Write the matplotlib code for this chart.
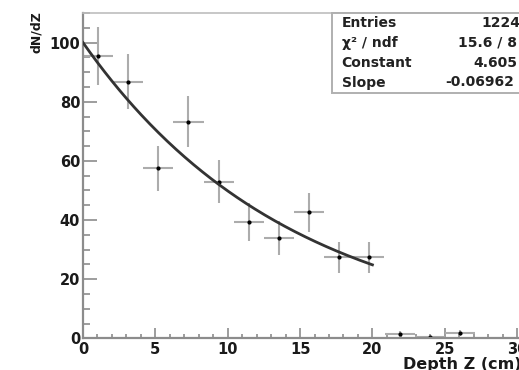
import numpy as np
import matplotlib
matplotlib.use("Agg")
import matplotlib.pyplot as plt
from matplotlib.patches import Rectangle

plt.rcParams['font.family'] = ['DejaVu Sans']
plt.rcParams['font.weight'] = 'bold'

# Depth histogram (bin centres in cm), counts and statistical errors
depth = [1.04, 3.13, 5.21, 7.29, 9.38, 11.46, 13.54, 15.63, 17.71, 19.79, 21.88, 23.96, 26.04]
counts = [95.3, 86.8, 57.5, 73.3, 52.9, 39.3, 33.8, 42.6, 27.4, 27.4, 1.6, 0.4, 1.8]
errors = [9.8, 9.3, 7.6, 8.6, 7.3, 6.3, 5.8, 6.5, 5.2, 5.2, 1.0, 0.6, 1.0]
bin_halfwidth = 1.04

# Exponential fit results
fit_constant = 4.605
fit_slope = -0.06962
fit_range = (0, 20)

stat_labels = ['Entries', 'χ² / ndf', 'Constant', 'Slope']
stat_values = ['1224', '15.6 / 8', '4.605', '-0.06962']

W, H = 519, 370
fig = plt.figure(figsize=(W / 100, H / 100), dpi=100)
ax = fig.add_axes([83 / W, 31.7 / H, 448.6 / W, 325.3 / H])

ax.errorbar(depth, counts, yerr=errors, xerr=bin_halfwidth, fmt='o', ms=2.0,
            mfc='black', mec='black', ecolor='#acacac', elinewidth=1.5,
            capsize=0, zorder=2)

zz = np.linspace(fit_range[0], fit_range[1], 200)
ax.plot(zz, np.exp(fit_constant + fit_slope * zz), color='#333333', lw=2, zorder=3)

ax.set_xlim(0, 31)
ax.set_ylim(0, 110)
ax.set_xticks(np.arange(0, 31, 5))
ax.set_xticks(np.arange(0, 31, 1), minor=True)
ax.set_yticks(np.arange(0, 101, 20))
ax.set_yticks(np.arange(0, 111, 5), minor=True)

for side in ['left', 'bottom']:
    ax.spines[side].set_color('#8c8c8c')
    ax.spines[side].set_linewidth(1.6)
ax.spines['top'].set_color('#bdbdbd')
ax.spines['top'].set_linewidth(1.2)
ax.spines['right'].set_visible(False)

ax.tick_params(axis='both', which='both', direction='in', color='#8c8c8c',
               labelsize=10.5, width=1.2)
ax.tick_params(axis='y', which='major', length=10, pad=2)
ax.tick_params(axis='y', which='minor', length=5)
ax.tick_params(axis='x', which='major', length=7, pad=3)
ax.tick_params(axis='x', which='minor', length=3)
for lbl in ax.get_xticklabels() + ax.get_yticklabels():
    lbl.set_fontweight('bold')
    lbl.set_color('#1a1a1a')

# Axis titles placed at the axis ends
fig.text(37 / W, 1 - 11 / H, 'dN/dZ', rotation=90, ha='center', va='top',
         fontsize=9, fontweight='bold', color='#1a1a1a')
fig.text(403 / W, 1 - 365 / H, 'Depth Z (cm)', ha='left', va='center',
         fontsize=11.5, fontweight='bold', color='#1a1a1a')

# Statistics box
box = Rectangle((331.7 / W, 1 - 93 / H), 0.6, 80 / H, transform=fig.transFigure,
                facecolor='white', edgecolor='#b0b0b0', lw=1.4, zorder=5)
fig.add_artist(box)
rows_y = [23, 43, 63, 82.5]
value_x = [481.7, 458, 473, 445]
for lab, val, y, vx in zip(stat_labels, stat_values, rows_y, value_x):
    fig.text(341.7 / W, 1 - y / H, lab, ha='left', va='center', fontsize=10,
             fontweight='bold', color='#222222', zorder=6)
    fig.text(vx / W, 1 - y / H, val, ha='left', va='center', fontsize=10,
             fontweight='bold', color='#222222', zorder=6)

fig.savefig('out.png', dpi=100)
